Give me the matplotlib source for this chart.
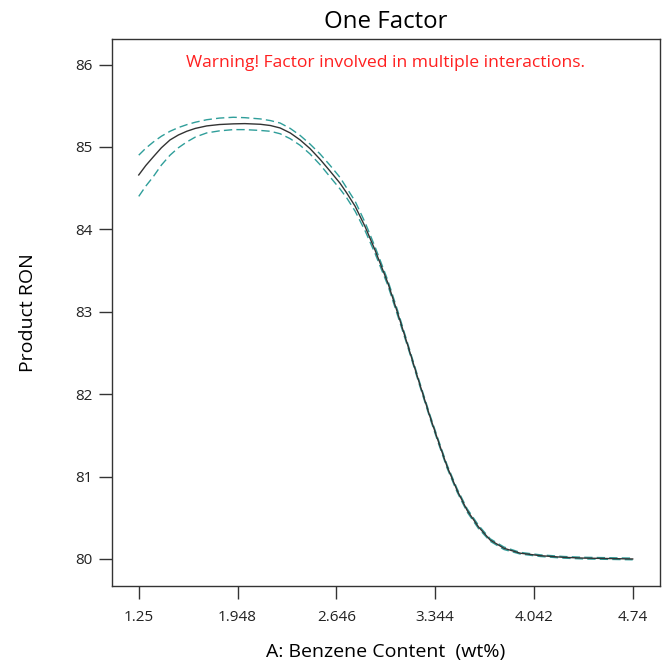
import matplotlib
matplotlib.use("Agg")
import matplotlib.pyplot as plt

# valores
benzeno = [1.25, 1.30, 1.353, 1.41, 1.471, 1.53, 1.589, 1.65, 1.73, 1.82,
           1.918, 2.00, 2.109, 2.18, 2.249, 2.32, 2.39, 2.46, 2.531, 2.60,
           2.672, 2.72, 2.779, 2.85, 2.919, 3.01, 3.08, 3.153, 3.23, 3.309,
           3.37, 3.429, 3.50, 3.57, 3.65, 3.733, 3.83, 3.945, 4.087, 4.25,
           4.40, 4.74]
ron_previsto = [84.66, 84.775, 84.88, 84.99, 85.085, 85.145, 85.19, 85.225, 85.255, 85.272,
                85.28, 85.283, 85.275, 85.26, 85.23, 85.17, 85.085, 84.98, 84.85, 84.71,
                84.56, 84.44, 84.28, 84.03, 83.75, 83.35, 82.98, 82.58, 82.15, 81.72,
                81.41, 81.12, 80.83, 80.59, 80.39, 80.23, 80.13, 80.07, 80.04, 80.02,
                80.01, 80.00]
ron_superior = [84.90, 84.985, 85.06, 85.13, 85.19, 85.235, 85.27, 85.30, 85.33, 85.35,
                85.36, 85.355, 85.34, 85.32, 85.29, 85.225, 85.14, 85.035, 84.915, 84.78,
                84.63, 84.50, 84.34, 84.08, 83.79, 83.38, 83.01, 82.60, 82.17, 81.74,
                81.43, 81.14, 80.85, 80.61, 80.41, 80.245, 80.145, 80.08, 80.05, 80.03,
                80.02, 80.01]
ron_inferior = [84.40, 84.525, 84.64, 84.78, 84.90, 84.99, 85.06, 85.12, 85.17, 85.195,
                85.21, 85.21, 85.20, 85.19, 85.16, 85.10, 85.02, 84.915, 84.785, 84.64,
                84.49, 84.38, 84.22, 83.98, 83.71, 83.32, 82.95, 82.56, 82.13, 81.70,
                81.39, 81.10, 80.81, 80.57, 80.37, 80.215, 80.115, 80.06, 80.03, 80.01,
                80.00, 79.99]

xticks = [1.25, 1.948, 2.646, 3.344, 4.042, 4.74]
xtick_labels = ["1.25", "1.948", "2.646", "3.344", "4.042", "4.74"]
yticks = [80, 81, 82, 83, 84, 85, 86]

plt.rcParams['font.family'] = ['Open Sans', 'DejaVu Sans']

fig = plt.figure(figsize=(6.65, 6.71), dpi=100)
ax = fig.add_axes([0.168, 0.1267, 0.8245, 0.8152])

cor_banda = "#2f9e9a"
ax.plot(benzeno, ron_superior, color=cor_banda, lw=1.0, dashes=(6, 3))
ax.plot(benzeno, ron_inferior, color=cor_banda, lw=1.0, dashes=(6, 3))
ax.plot(benzeno, ron_previsto, color="#333333", lw=1.0)

ax.set_xlim(1.059, 4.933)
ax.set_ylim(79.672, 86.31)
ax.set_xticks(xticks)
ax.set_xticklabels(xtick_labels)
ax.set_yticks(yticks)

for s in ax.spines.values():
    s.set_color("#333333")
    s.set_linewidth(1.0)
ax.tick_params(direction='out', length=9.5, width=1.0, color="#333333",
               labelsize=11, labelcolor="#222222")
ax.tick_params(axis='x', pad=8)
ax.tick_params(axis='y', pad=4)

ax.set_title("One Factor", fontsize=17.3, pad=8)
ax.text(0.5, 0.957, "Warning! Factor involved in multiple interactions.",
        transform=ax.transAxes, ha='center', va='center', color="#ff2020", fontsize=12.6)
ax.set_xlabel("A: Benzene Content  (wt%)", fontsize=14, labelpad=13)
ax.set_ylabel("Product RON", fontsize=14, labelpad=28)

fig.savefig("out.png", dpi=100)
